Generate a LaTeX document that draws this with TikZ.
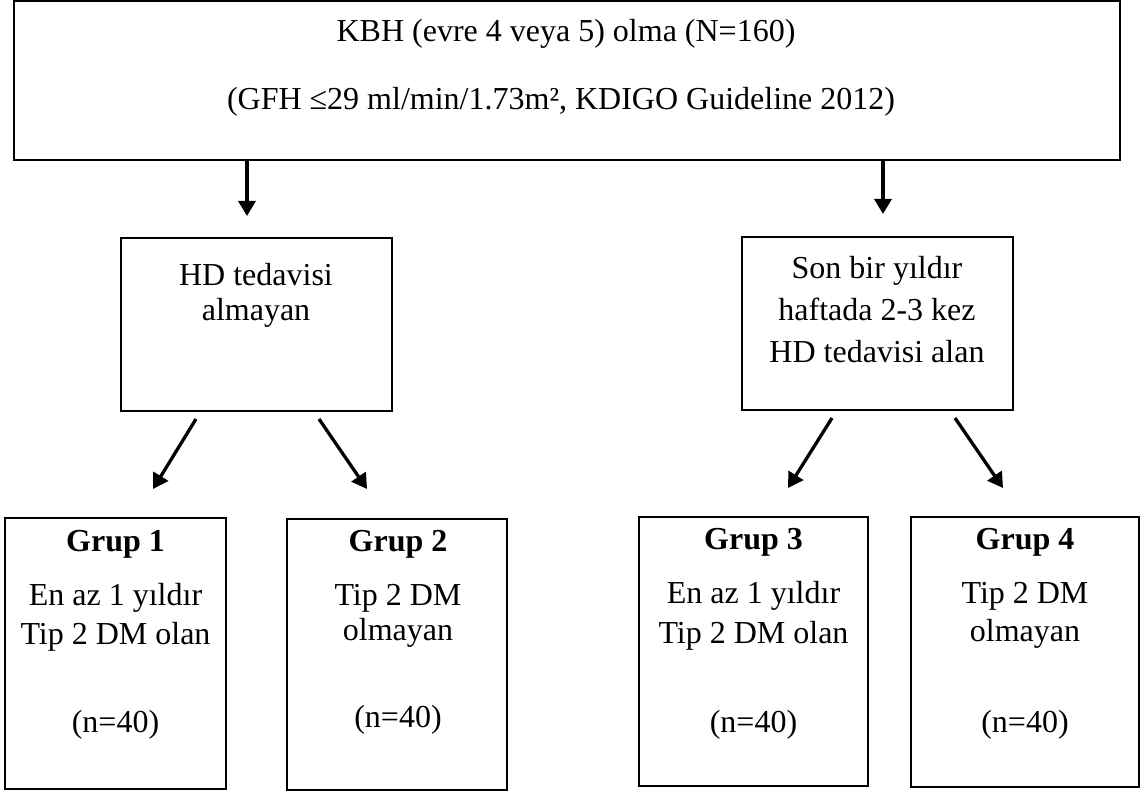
\documentclass[tikz,border=0pt]{standalone}
\usepackage{fontspec}
\setmainfont{Liberation Serif}
\usetikzlibrary{arrows.meta,calc}
\begin{document}
\begin{tikzpicture}[x=1pt,y=-1pt,
  boxstyle/.style={draw=black,line width=1.8pt,inner sep=0pt},
  txt/.style={anchor=base,inner sep=0pt,font=\fontsize{32}{40}\selectfont},
  btxt/.style={txt,font=\fontsize{32}{40}\selectfont\bfseries},
  arr/.style={line width=3.3pt,-{Triangle[length=15pt,width=17pt]}}]
\useasboundingbox (0,0) rectangle (1142,794);
% boxes
\node[boxstyle,minimum width=1106pt,minimum height=159pt] (top) at (567,80.5) {};
\node[boxstyle,minimum width=271pt,minimum height=173pt] (hd0) at (256.5,324.5) {};
\node[boxstyle,minimum width=271pt,minimum height=173pt] (hd1) at (877.5,323.5) {};
\node[boxstyle,minimum width=221pt,minimum height=271pt] (g1) at (115.5,653.5) {};
\node[boxstyle,minimum width=220pt,minimum height=271pt] (g2) at (397,654.5) {};
\node[boxstyle,minimum width=229pt,minimum height=269pt] (g3) at (753.5,651.5) {};
\node[boxstyle,minimum width=228pt,minimum height=270pt] (g4) at (1025,652) {};
% texts
\node[txt] (t1) at (566,42) {KBH (evre 4 veya 5) olma (N=160)};
\node[txt] (t2) at (561,110) {(GFH ≤29 ml/min/1.73m², KDIGO Guideline 2012)};
\node[txt] (l1) at (256,285) {HD tedavisi};
\node[txt] (l2) at (256,320) {almayan};
\node[txt] (r1) at (877,278) {Son bir yıldır};
\node[txt] (r2) at (877,320) {haftada 2-3 kez};
\node[txt] (r3) at (877,362) {HD tedavisi alan};
\node[btxt] (g1a) at (115.5,551) {Grup 1};
\node[txt] (g1b) at (115.5,605) {En az 1 yıldır};
\node[txt] (g1c) at (115.5,644) {Tip 2 DM olan};
\node[txt] (g1d) at (115.5,732) {(n=40)};
\node[btxt] (g2a) at (398,551) {Grup 2};
\node[txt] (g2b) at (398,605) {Tip 2 DM};
\node[txt] (g2c) at (398,640) {olmayan};
\node[txt] (g2d) at (398,727) {(n=40)};
\node[btxt] (g3a) at (753.5,549) {Grup 3};
\node[txt] (g3b) at (753.5,603) {En az 1 yıldır};
\node[txt] (g3c) at (753.5,643) {Tip 2 DM olan};
\node[txt] (g3d) at (753.5,732) {(n=40)};
\node[btxt] (g4a) at (1025,549) {Grup 4};
\node[txt] (g4b) at (1025,603) {Tip 2 DM};
\node[txt] (g4c) at (1025,641) {olmayan};
\node[txt] (g4d) at (1025,732) {(n=40)};
% arrow free ends
\coordinate (a0e) at (247,216);
\coordinate (a1e) at (883,214);
\coordinate (b1s) at (196,419);
\coordinate (b1e) at (153,489);
\coordinate (b2s) at (319,419);
\coordinate (b2e) at (367,489);
\coordinate (b3s) at (832,418);
\coordinate (b3e) at (788,488);
\coordinate (b4s) at (955,418);
\coordinate (b4e) at (1003,488);
\draw[arr] (a0e |- top.south) -- (a0e);
\draw[arr] (a1e |- top.south) -- (a1e);
\draw[arr] (b1s) -- (b1e);
\draw[arr] (b2s) -- (b2e);
\draw[arr] (b3s) -- (b3e);
\draw[arr] (b4s) -- (b4e);
\end{tikzpicture}
\end{document}
